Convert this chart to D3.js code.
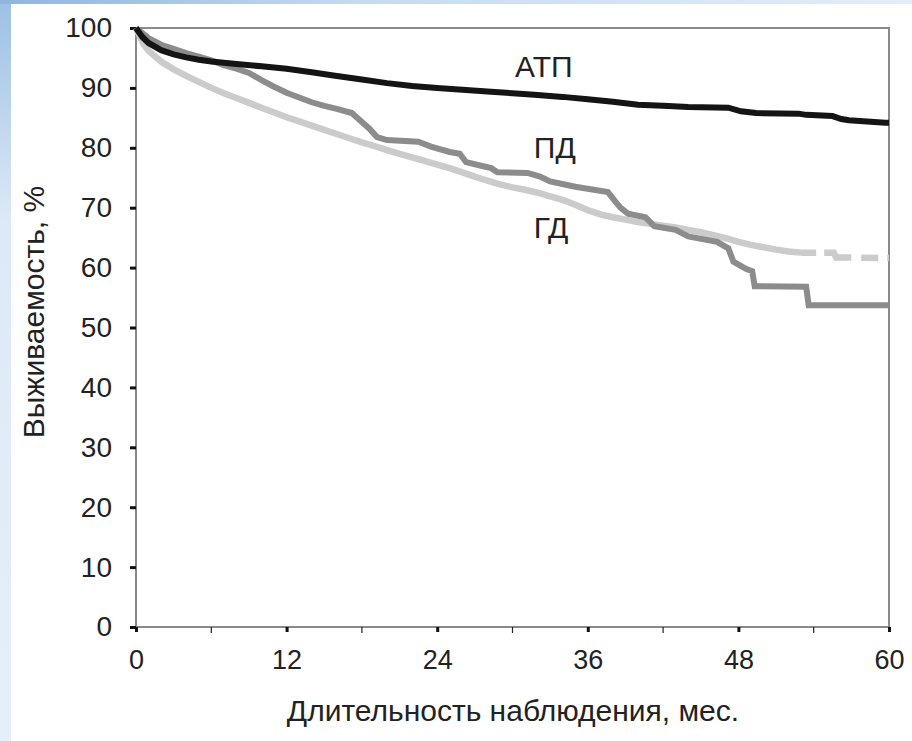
<!DOCTYPE html>
<html>
<head>
<meta charset="utf-8">
<script src="https://cdn.jsdelivr.net/npm/d3@7"></script>
<style>
  body { margin: 0; background: #fff; }
  svg { display: block; }
  text { font-family: "Liberation Sans", Arial, sans-serif; fill: #222; }
</style>
</head>
<body>
<div id="chart"></div>
<script>
// survival curves, months vs %
var atpMonths = [0, 0.5, 1, 2, 3, 4, 5, 6, 8, 10, 12, 14, 16, 18, 20, 22, 24, 26, 28, 30, 32, 34, 36, 38, 40, 42, 44, 47.2, 48.2, 49.4, 52.8, 53.4, 55.5, 56.2, 56.8, 59.7, 60];
var atpValues = [100, 98.5, 97.5, 96.3, 95.6, 95.1, 94.7, 94.4, 94.0, 93.6, 93.2, 92.6, 92.0, 91.4, 90.8, 90.3, 90.0, 89.7, 89.4, 89.1, 88.8, 88.5, 88.1, 87.7, 87.2, 87.0, 86.8, 86.7, 86.1, 85.8, 85.7, 85.5, 85.3, 84.8, 84.6, 84.2, 84.2];

var pdMonths = [0, 1, 2, 3, 4, 5, 6, 7, 8, 9, 10, 11, 12, 13, 14, 15, 16, 17.2, 18, 18.6, 19.2, 20, 22.5, 23.5, 25, 25.8, 26.3, 27.5, 28.3, 28.8, 31.2, 32.2, 33, 35, 37.6, 38.2, 38.6, 39.2, 40.6, 41.3, 43, 44, 46.3, 47.2, 47.6, 48.6, 49.1, 49.3, 53.4, 53.6, 60];
var pdValues = [100, 98.3, 97.2, 96.5, 95.8, 95.2, 94.6, 93.8, 93.2, 92.5, 91.3, 90.2, 89.2, 88.4, 87.6, 87.0, 86.5, 85.8, 84.3, 83.2, 81.8, 81.3, 81.0, 80.2, 79.3, 79.0, 77.6, 77.0, 76.6, 75.9, 75.8, 75.2, 74.4, 73.5, 72.6, 71.0, 70.0, 69.0, 68.4, 66.9, 66.3, 65.2, 64.3, 63.2, 61.0, 59.8, 59.4, 56.9, 56.8, 53.7, 53.7];

var gdMonths = [0, 0.3, 0.6, 1, 2, 3, 4, 5, 6, 7, 8, 9, 10, 11, 12, 13, 14, 15, 16, 17, 18, 19, 20, 21, 22, 23, 24, 25, 26, 27, 28, 29, 30, 31, 32, 33, 34, 35, 36, 37, 38, 39, 40, 41, 42, 43, 44, 45, 46, 47, 48, 49, 50, 51, 52, 53, 55.6, 55.8, 60];
var gdValues = [100, 98.6, 97.3, 96.2, 94.4, 93.1, 92.0, 91.0, 90.0, 89.1, 88.3, 87.5, 86.7, 85.9, 85.1, 84.4, 83.7, 83.0, 82.3, 81.6, 80.9, 80.3, 79.6, 79.0, 78.4, 77.8, 77.2, 76.6, 75.9, 75.2, 74.5, 73.9, 73.4, 73.0, 72.5, 71.9, 71.3, 70.5, 69.6, 68.9, 68.4, 68.0, 67.6, 67.3, 67.0, 66.7, 66.3, 65.9, 65.4, 64.9, 64.3, 63.8, 63.4, 63.0, 62.7, 62.5, 62.5, 61.7, 61.6];
var gdDashFrom = 53; // tail of ГД drawn broken

var xTicks = [0, 12, 24, 36, 48, 60];
var xMinorTicks = [6, 18, 30, 42, 54];
var yTicks = [0, 10, 20, 30, 40, 50, 60, 70, 80, 90, 100];

var seriesNames = ["АТП", "ПД", "ГД"];
var xTitle = "Длительность наблюдения, мес.";
var yTitle = "Выживаемость, %";

var W = 912, H = 741;
var margin = { top: 28, right: 23, bottom: 114, left: 136 },
    width = W - margin.left - margin.right,
    height = H - margin.top - margin.bottom;

var svg = d3.select("#chart").append("svg")
    .attr("width", W)
    .attr("height", H);

// bluish slide edge
var defs = svg.append("defs");
var grad = defs.append("linearGradient").attr("id", "edge").attr("x1", 0).attr("y1", 0).attr("x2", 0).attr("y2", 1);
grad.append("stop").attr("offset", "0%").attr("stop-color", "#9cc0e4");
grad.append("stop").attr("offset", "30%").attr("stop-color", "#dde9f6");
grad.append("stop").attr("offset", "100%").attr("stop-color", "#e6eff9");
var gradTop = defs.append("linearGradient").attr("id", "edgeTop");
gradTop.append("stop").attr("offset", "0%").attr("stop-color", "#8fb5de");
gradTop.append("stop").attr("offset", "40%").attr("stop-color", "#c6dbf0");
gradTop.append("stop").attr("offset", "100%").attr("stop-color", "#e3edf7");
svg.append("rect").attr("width", 11).attr("height", H).attr("fill", "url(#edge)");
svg.append("rect").attr("width", W).attr("height", 4).attr("fill", "url(#edgeTop)");

var g = svg.append("g")
    .attr("transform", "translate(" + margin.left + "," + margin.top + ")");

var x = d3.scaleLinear().domain([0, 60]).range([0, width]);
var y = d3.scaleLinear().domain([0, 100]).range([height, 0]);

// frame
g.append("path")
    .attr("d", "M0," + height + "V0H" + width + "V" + height)
    .attr("fill", "none")
    .attr("stroke", "#8a8a8a")
    .attr("stroke-width", 2);
g.append("line")
    .attr("x1", 0).attr("x2", width)
    .attr("y1", height).attr("y2", height)
    .attr("stroke", "#8a8a8a")
    .attr("stroke-width", 2);

// x axis
var xAxis = g.append("g")
    .attr("transform", "translate(0," + height + ")")
    .call(d3.axisBottom(x).tickValues(xTicks).tickSize(5).tickPadding(18));
xAxis.select(".domain").remove();
xAxis.selectAll(".tick line").attr("stroke", "#111").attr("stroke-width", 3);
xAxis.selectAll(".tick text").style("font-size", "27px").style("font-family", "Liberation Sans, Arial, sans-serif").attr("fill", "#222");

g.append("g")
    .attr("transform", "translate(0," + height + ")")
    .selectAll("line")
    .data(xMinorTicks)
    .enter().append("line")
    .attr("x1", function (d) { return x(d); })
    .attr("x2", function (d) { return x(d); })
    .attr("y1", 0).attr("y2", 6)
    .attr("stroke", "#222")
    .attr("stroke-width", 1.2);

// y axis
var yAxis = g.append("g")
    .call(d3.axisLeft(y).tickValues(yTicks).tickSize(6).tickPadding(18));
yAxis.select(".domain").remove();
yAxis.selectAll(".tick line").attr("stroke", "#111").attr("stroke-width", 3);
yAxis.selectAll(".tick text").style("font-size", "28px").style("font-family", "Liberation Sans, Arial, sans-serif").attr("fill", "#222");

// curves
var line = d3.line()
    .x(function (d) { return x(d[0]); })
    .y(function (d) { return y(d[1]); });

function pairs(ms, vs) {
    return ms.map(function (m, i) { return [m, vs[i]]; });
}

var gd = pairs(gdMonths, gdValues);
g.append("path")
    .datum(gd.filter(function (d) { return d[0] <= gdDashFrom; }))
    .attr("fill", "none")
    .attr("stroke", "#cbcbcb")
    .attr("stroke-width", 6.5)
    .attr("d", line);
g.append("path")
    .datum(gd.filter(function (d) { return d[0] >= gdDashFrom; }))
    .attr("fill", "none")
    .attr("stroke", "#cbcbcb")
    .attr("stroke-width", 6.5)
    .attr("stroke-dasharray", "15,8,30,10,17,9")
    .attr("d", line);

g.append("path")
    .datum(pairs(pdMonths, pdValues))
    .attr("fill", "none")
    .attr("stroke", "#8c8c8c")
    .attr("stroke-width", 6)
    .attr("stroke-linejoin", "miter")
    .attr("d", line);

g.append("path")
    .datum(pairs(atpMonths, atpValues))
    .attr("fill", "none")
    .attr("stroke", "#141414")
    .attr("stroke-width", 6)
    .attr("d", line);

// series labels
var labelPos = [[30.2, 91.8], [31.7, 78.3], [31.7, 65]];
g.selectAll(".lbl")
    .data(seriesNames)
    .enter().append("text")
    .attr("class", "lbl")
    .attr("x", function (d, i) { return x(labelPos[i][0]); })
    .attr("y", function (d, i) { return y(labelPos[i][1]); })
    .style("font-size", "30px")
    .text(function (d) { return d; });

// axis titles
svg.append("text")
    .attr("x", 513)
    .attr("y", 721)
    .attr("text-anchor", "middle")
    .style("font-size", "30px")
    .text(xTitle);

svg.append("text")
    .attr("transform", "translate(44,312) rotate(-90)")
    .attr("text-anchor", "middle")
    .style("font-size", "30px")
    .text(yTitle);
</script>
</body>
</html>
